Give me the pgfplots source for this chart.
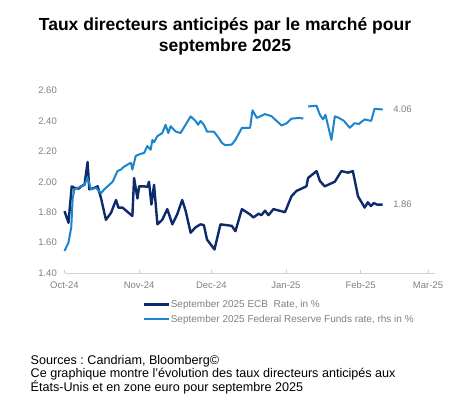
\documentclass[border=0pt]{standalone}
\usepackage{fontspec}
\setmainfont{Liberation Sans}
\usepackage{pgfplots}
\pgfplotsset{compat=1.18}
\definecolor{ecb}{HTML}{0E2A6B}
\definecolor{fed}{HTML}{1B84CC}
\definecolor{tickgray}{HTML}{808080}
\frenchspacing
\begin{document}
\begin{tikzpicture}[x=1bp,y=1bp]
\path[use as bounding box] (0,0) rectangle (452,396);
\node[anchor=base,font=\bfseries\fontsize{17.5bp}{21bp}\selectfont] at (225,365.5) {Taux directeurs anticipés par le marché pour};
\node[anchor=base,font=\bfseries\fontsize{17.5bp}{21bp}\selectfont] at (225,344.5) {septembre 2025};
\begin{axis}[
  at={(64.5bp,123bp)}, anchor=south west,
  scale only axis, width=370.7bp, height=182.5bp,
  xmin=0, xmax=154, ymin=1.4, ymax=2.6,
  axis x line=bottom, axis y line=left,
  x axis line style={-, draw=gray!35, line width=0.6bp},
  y axis line style={draw=none},
  xtick={0,31,61,92,123,151},
  xticklabels={Oct-24,Nov-24,Dec-24,Jan-25,Feb-25,Mar-25},
  ytick={1.4,1.6,1.8,2.0,2.2,2.4,2.6},
  yticklabel style={/pgf/number format/.cd,fixed,fixed zerofill,precision=2,/tikz/.cd, inner sep=0pt, xshift=-7.5bp},
  /pgf/number format/assume math mode=true,
  tick align=inside, major tick length=3bp,
  xtick style={draw=gray!40, line width=0.6bp},
  ytick style={draw=none},
  xticklabel style={inner sep=0pt, yshift=-8.5bp},
  tick label style={font=\fontsize{9.5bp}{11bp}\selectfont, text=tickgray},
  unbounded coords=jump,
  clip=false,
  legend cell align=left,
  legend style={at={(0.211,-0.145)}, anchor=north west, draw=none, fill=none,
    font=\fontsize{10bp}{12bp}\selectfont, text=tickgray, inner sep=0pt,
    row sep=5bp, nodes={inner sep=0.5bp}},
  legend image code/.code={\draw[#1] (0bp,0bp) -- (25bp,0bp);},
]
\addplot[ecb, line width=2.4bp, line join=round] coordinates {
(0,1.807) (1.65,1.73) (3.0,1.97) (4.1,1.96) (5.9,1.955) (6.9,1.97) (8.3,1.98)
(9.6,2.13) (10.3,1.95) (12.4,1.96) (13.8,1.97) (15.2,1.89) (17.2,1.75) (19.3,1.795)
(21.4,1.88) (22.4,1.83) (24.1,1.83) (28.2,1.775) (28.9,2.025) (30.3,1.89) (31.0,1.97)
(33.1,1.97) (34.4,1.965) (35.1,2.00) (36.1,1.85) (37.2,1.98) (38.6,1.72) (40.6,1.75)
(42.7,1.82) (44.8,1.72) (46.8,1.785) (48.9,1.88) (50.3,1.81) (52.4,1.665) (54.4,1.70)
(56.5,1.72) (57.9,1.715) (59.2,1.62) (62.3,1.555) (64.8,1.72) (69.5,1.71) (71.0,1.675)
(73.7,1.82) (77.1,1.785) (78.5,1.765) (80.6,1.79) (81.8,1.78) (83.3,1.81) (84.7,1.78)
(86.8,1.82) (91.6,1.80) (94.3,1.905) (96.4,1.94) (98.5,1.955) (100.5,1.97) (101.2,2.025)
(104.7,2.07) (106.1,2.005) (108.1,1.97) (110.2,1.985) (112.3,2.00) (115.0,2.07)
(117.8,2.06) (119.8,2.07) (121.9,1.905) (124.7,1.83) (126.0,1.865) (127.3,1.84)
(128.5,1.86) (129.8,1.85) (132.2,1.85)
};
\addlegendentry{September 2025 ECB\ \ Rate, in \%}
\addplot[fed, line width=2bp, line join=round] coordinates {
(0,1.545) (1.65,1.60) (2.8,1.70) (3.4,1.89) (4.1,1.95) (6.9,1.97) (8.3,1.98) (9.6,2.025)
(11.0,1.95) (13.1,1.96) (15.2,1.925) (16.5,1.95) (20.0,2.00) (22.0,2.07) (23.4,2.08)
(24.8,2.10) (27.6,2.125) (28.2,2.08) (29.6,2.17) (31.0,2.18) (33.1,2.19) (34.4,2.235)
(35.8,2.21) (36.5,2.275) (37.2,2.26) (38.6,2.30) (40.6,2.32) (42.0,2.375) (43.1,2.32)
(44.1,2.365) (46.2,2.33) (48.2,2.32) (50.3,2.375) (52.4,2.43) (54.4,2.40) (55.5,2.375)
(56.5,2.40) (57.9,2.375) (59.2,2.33) (62.0,2.33) (64.0,2.29) (65.4,2.255) (66.8,2.24)
(69.5,2.245) (71.0,2.275) (73.7,2.355) (77.1,2.355) (78.1,2.47) (79.9,2.42) (83.3,2.445)
(86.1,2.43) (88.1,2.40) (90.2,2.37) (92.3,2.385) (94.3,2.415) (97.8,2.42) (99.2,2.415)
(100,nan)
(101.2,2.495) (104.7,2.50) (106.1,2.44) (107.4,2.41) (108.4,2.44) (110.9,2.275)
(112.3,2.43) (114.0,2.42) (116.1,2.40) (118.5,2.355) (120.5,2.385) (122.3,2.38)
(124.7,2.41) (127.4,2.40) (128.8,2.48) (132.2,2.475)
};
\addlegendentry{September 2025 Federal Reserve Funds rate, rhs in \%}
\node[anchor=west, inner sep=0pt, font=\fontsize{9.5bp}{11bp}\selectfont, text=tickgray] at (axis cs:136.5,2.475) {4.06};
\node[anchor=west, inner sep=0pt, font=\fontsize{9.5bp}{11bp}\selectfont, text=tickgray] at (axis cs:136.5,1.85) {1.86};
\end{axis}
\node[anchor=base west,inner sep=0pt,font=\fontsize{12.6bp}{15bp}\selectfont] at (30.5,32) {Sources : Candriam, Bloomberg©};
\node[anchor=base west,inner sep=0pt,font=\fontsize{12.6bp}{15bp}\selectfont] at (30.5,18.3) {Ce graphique montre l'évolution des taux directeurs anticipés aux};
\node[anchor=base west,inner sep=0pt,font=\fontsize{12.6bp}{15bp}\selectfont] at (30.5,4.3) {États-Unis et en zone euro pour septembre 2025};
\end{tikzpicture}
\end{document}
